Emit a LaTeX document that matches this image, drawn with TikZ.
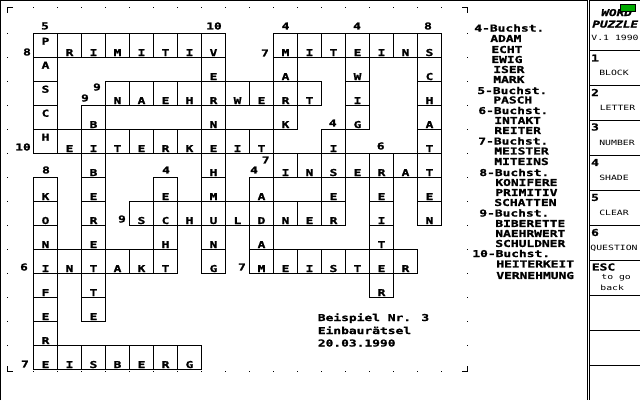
\documentclass[tikz,border=0pt]{standalone}
\usepackage{fontspec}
\newfontfamily\dosfont[FakeStretch=1.36,BoldFeatures={FakeBold=1.2},BoldItalicFeatures={FakeBold=1.2}]{DejaVu Sans Mono}
\definecolor{ledGreen}{RGB}{0,170,0}
\tikzset{
  pixline/.style={line width=0.2mm},
  bigtext/.style={inner sep=0pt,font=\dosfont\bfseries\fontsize{5.4pt}{5.4pt}\selectfont},
  smalltext/.style={inner sep=0pt,font=\dosfont\fontsize{4.1pt}{4.1pt}\selectfont},
  slanttext/.style={inner sep=0pt,font=\dosfont\bfseries\itshape\fontsize{5.3pt}{5.3pt}\selectfont}
}
\begin{document}
\begin{tikzpicture}[x=0.2mm,y=-0.2mm]
\useasboundingbox (0,0) rectangle (640,400);

% Screen edges
\draw[pixline] (0.5,400) -- (0.5,0.5) -- (587,0.5);
\draw[pixline] (587,0) -- (587,400);
\draw[pixline] (589.5,0) -- (589.5,400);
\draw[pixline] (589.5,0.5) -- (640,0.5);

% Page corners
\draw[pixline] (13,7.5) -- (7.5,7.5) -- (7.5,13);
\draw[pixline] (462,7.5) -- (467.5,7.5) -- (467.5,13);
\draw[pixline] (7.5,366) -- (7.5,371.5) -- (13,371.5);
\draw[pixline] (462,371.5) -- (467.5,371.5) -- (467.5,366);

% Page dots
\foreach \cc in {0,...,17} {
  \fill ({33+24*\cc},7) rectangle ++(1.2,1.2);
  \fill ({33+24*\cc},371) rectangle ++(1.2,1.2);
}
\foreach \rr in {0,...,13} {
  \fill (7,{33+24*\rr}) rectangle ++(1.2,1.2);
  \fill (467,{33+24*\rr}) rectangle ++(1.2,1.2);
}

% Cells, letters at the foot of the cell
\foreach \cc/\rr/\ch in {
  1/0/R,2/0/I,3/0/M,4/0/I,5/0/T,6/0/I,7/0/V,
  10/0/M,11/0/I,12/0/T,13/0/E,14/0/I,15/0/N,16/0/S,
  7/1/E,10/1/A,13/1/W,16/1/C,
  3/2/N,4/2/A,5/2/E,6/2/H,7/2/R,8/2/W,9/2/E,10/2/R,11/2/T,13/2/I,16/2/H,
  2/3/B,7/3/N,10/3/K,13/3/G,16/3/A,
  1/4/E,2/4/I,3/4/T,4/4/E,5/4/R,6/4/K,7/4/E,8/4/I,9/4/T,12/4/I,16/4/T,
  2/5/B,7/5/H,10/5/I,11/5/N,12/5/S,13/5/E,14/5/R,15/5/A,16/5/T,
  0/6/K,2/6/E,5/6/E,7/6/M,9/6/A,12/6/E,14/6/E,16/6/E,
  0/7/O,2/7/R,4/7/S,5/7/C,6/7/H,7/7/U,8/7/L,9/7/D,10/7/N,11/7/E,12/7/R,14/7/I,16/7/N,
  0/8/N,2/8/E,5/8/H,7/8/N,9/8/A,14/8/T,
  0/9/I,1/9/N,2/9/T,3/9/A,4/9/K,5/9/T,7/9/G,
  9/9/M,10/9/E,11/9/I,12/9/S,13/9/T,14/9/E,15/9/R,
  0/10/F,2/10/T,14/10/R,
  0/11/E,2/11/E,
  0/12/R,
  0/13/E,1/13/I,2/13/S,3/13/B,4/13/E,5/13/R,6/13/G
} {
  \draw[pixline] ({33.5+24*\cc},{33.5+24*\rr}) rectangle ++(24,24);
  \node[bigtext,anchor=base] (cell\cc-\rr) at ({45.5+24*\cc},{56+24*\rr}) {\ch};
}

% First column, letters at the head of the cell
\foreach \rr/\ch in {0/P,1/A,2/S,3/C,4/H} {
  \draw[pixline] (33.5,{33.5+24*\rr}) rectangle ++(24,24);
  \node[bigtext,anchor=base] (cell0-\rr) at (45.5,{44.7+24*\rr}) {\ch};
}

% Word lengths
\foreach \xx/\yy/\num [count=\i] in {
  45/26/5,214/26/10,285.5/26/4,357/26/4,428/26/8,27/52/8,265/53/7,97/87/9,85/98/9,
  23/147/10,332.7/123/4,380.7/146/6,265.7/160/7,46/170/8,166/170/4,254/170/4,
  122/219/9,24/267/6,242/267/7,25/364/7
} {
  \node[bigtext] (num\i) at (\xx,\yy) {\num};
}

% Title
\node[bigtext,anchor=base west] (title1) at (317.5,321) {Beispiel Nr. 3};
\node[bigtext,anchor=base west] (title2) at (317.5,334) {Einbaurätsel};
\node[bigtext,anchor=base west] (title3) at (317.5,346.5) {20.03.1990};

% Word list
\foreach \xx/\yy/\txt [count=\i] in {
  474/28/4-Buchst.,490/38.5/ADAM,491/49.5/ECHT,491/59.5/EWIG,493/69.5/ISER,493/79.5/MARK,
  477/90.5/5-Buchst.,493/100/PASCH,
  478/110.5/6-Buchst.,494/120.5/INTAKT,494/130.5/REITER,
  478/141/7-Buchst.,494/151/MEISTER,494/161.5/MITEINS,
  479/172.5/8-Buchst.,495/182.5/KONIFERE,495/192.5/PRIMITIV,494/202.5/SCHATTEN,
  479/213/9-Buchst.,495/223.5/BIBERETTE,495/233.5/NAEHRWERT,495/243.5/SCHULDNER,
  472/253.5/10-Buchst.,496/264/HEITERKEIT,496/275.5/VERNEHMUNG
} {
  \node[bigtext,anchor=west] (word\i) at (\xx,\yy) {\txt};
}

% Menu
\foreach \yy in {50,85,120,155,190,225,260,295,330,365} {
  \draw[pixline] (589.5,\yy) -- (640,\yy);
}
\node[slanttext,anchor=base west] (logo1) at (601,16) {WORD};
\node[slanttext,anchor=base west] (logo2) at (592,27.5) {PUZZLE};
\draw[pixline,fill=ledGreen] (620.5,4.5) rectangle (635.5,11.5);
\node[smalltext] (version) at (615,38) {V.1 1990};

\foreach \yy/\key [count=\i] in {58/1,92.5/2,127/3,162.5/4,197.5/5,232.5/6} {
  \node[bigtext] (key\i) at (595,\yy) {\key};
}
\foreach \xx/\yy/\txt [count=\i] in {
  614/73/BLOCK,617.5/108/LETTER,617/143/NUMBER,614/178/SHADE,614/213/CLEAR,614/248/QUESTION
} {
  \node[smalltext] (menu\i) at (\xx,\yy) {\txt};
}
\node[bigtext,anchor=west] (esc) at (591.5,267) {ESC};
\node[smalltext,anchor=west] (togo) at (601,278) {to go};
\node[smalltext,anchor=west] (back) at (600,288) {back};
\end{tikzpicture}
\end{document}
